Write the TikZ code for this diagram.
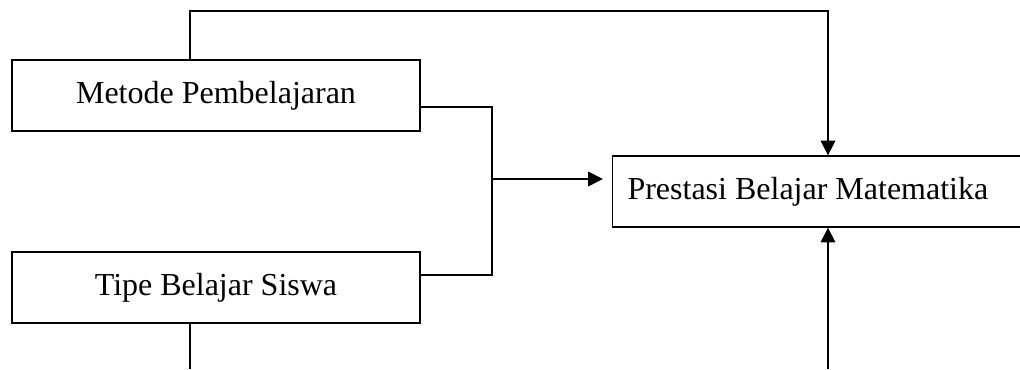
\documentclass[tikz,border=0pt]{standalone}
\usepackage{fontspec}
\setmainfont{Liberation Serif}
\usetikzlibrary{arrows.meta}
\begin{document}
\begin{tikzpicture}[x=0.75pt,y=-0.75pt,
  box/.style={draw,line width=1pt,rectangle,minimum width=306pt,minimum height=53.25pt,inner sep=0pt,font=\fontsize{24}{28}\selectfont},
  conn/.style={line width=1pt},
  arr/.style={line width=1pt,-{Triangle[length=11pt,width=11pt]}}]
\useasboundingbox (0,0) rectangle (1020,369);
\node[box] (m) at (216,95.5) {Metode Pembelajaran};
\node[box] (t) at (216,287.5) {Tipe Belajar Siswa};
\node[box,text width=283.5pt,inner xsep=11.25pt,align=flush left] (p) at (816.5,191.5) {Prestasi Belajar Matematika};
\coordinate (j1) at (492,107);
\coordinate (j2) at (492,275);
\coordinate (jm) at (492,179);
\coordinate (top1) at (190,11);
\coordinate (top2) at (828,11);
\coordinate (b1) at (190,369);
\coordinate (b2) at (828,369);
\draw[conn] (m.east |- j1) -- (j1) -- (j2) -- (t.east |- j2);
\draw[arr,shorten >=6.75pt] (jm) -- (p.west |- jm);
\draw[arr] (top1 |- m.north) -- (top1) -- (top2) -- (top2 |- p.north);
\draw[conn] (t.south -| b1) -- (b1);
\draw[arr] (b2) -- (b2 |- p.south);
\end{tikzpicture}
\end{document}
